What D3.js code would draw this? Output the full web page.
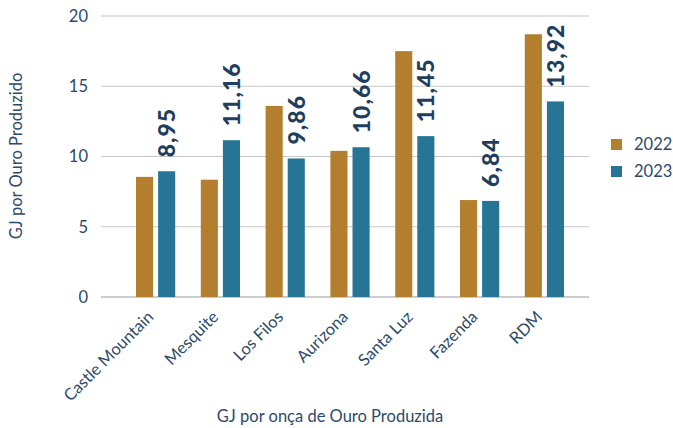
<!DOCTYPE html>
<html>
<head>
<meta charset="utf-8">
<script src="https://cdn.jsdelivr.net/npm/d3@7"></script>
<style>
  body { margin: 0; background: #fff; }
  text { font-family: Lato, 'Open Sans', sans-serif; }
</style>
</head>
<body>
<div id="chart"></div>
<script>
let categories = ['Castle Mountain', 'Mesquite', 'Los Filos', 'Aurizona', 'Santa Luz', 'Fazenda', 'RDM']
let series = ['2022', '2023']
let values2022 = [8.55, 8.35, 13.6, 10.4, 17.5, 6.9, 18.7]
let values2023 = [8.95, 11.16, 9.86, 10.66, 11.45, 6.84, 13.92]
let labels2023 = ['8,95', '11,16', '9,86', '10,66', '11,45', '6,84', '13,92']
let yTicks = [0, 5, 10, 15, 20]

let colors = { '2022': '#b37f2f', '2023': '#267596' }
let textColor = '#2c4a6a'

let width = 673
let height = 428

let svg = d3
  .select('#chart')
  .append('svg')
  .attr('width', width)
  .attr('height', height)

// grid spans wider than the bars
let gridLeft = 101
let gridRight = 589

let x = d3.scaleBand()
  .domain(categories)
  .range([136, 564])
  .paddingInner(0.395)
  .paddingOuter(0)

let xInner = d3.scaleBand()
  .domain(series)
  .range([0, x.bandwidth()])
  .paddingInner(0.227)

let y = d3.scaleLinear()
  .domain([0, 20])
  .range([297, 16])

// gridlines
svg.selectAll('.grid')
  .data(yTicks)
  .enter()
  .append('line')
  .attr('x1', gridLeft)
  .attr('x2', gridRight)
  .attr('y1', d => y(d))
  .attr('y2', d => y(d))
  .attr('stroke', d => d === 0 ? '#9a9a9a' : '#c6c6c6')
  .attr('stroke-width', 1.2)

// y tick labels
svg.selectAll('.ytick')
  .data(yTicks)
  .enter()
  .append('text')
  .attr('x', 88)
  .attr('y', d => y(d))
  .attr('dy', '0.35em')
  .attr('text-anchor', 'end')
  .attr('font-size', 16.5)
  .attr('fill', textColor)
  .text(d => d)

let rows = categories.map((c, i) => ({ cat: c, '2022': values2022[i], '2023': values2023[i], label: labels2023[i] }))

let groups = svg.selectAll('.grp')
  .data(rows)
  .enter()
  .append('g')
  .attr('transform', d => `translate(${x(d.cat)},0)`)

groups.selectAll('rect')
  .data(d => series.map(s => ({ s: s, v: d[s] })))
  .enter()
  .append('rect')
  .attr('x', d => xInner(d.s))
  .attr('y', d => y(d.v))
  .attr('width', xInner.bandwidth())
  .attr('height', d => y(0) - y(d.v))
  .attr('fill', d => colors[d.s])

// value labels on 2023 bars
groups.append('text')
  .attr('transform', d => `translate(${xInner('2023') + xInner.bandwidth()},${y(d['2023']) - 14}) rotate(-90)`)
  .attr('font-size', 23)
  .attr('font-weight', 900)
  .attr('letter-spacing', 1)
  .attr('fill', '#1f3d5c')
  .text(d => d.label)

// category labels
svg.selectAll('.xlab')
  .data(categories)
  .enter()
  .append('text')
  .attr('transform', d => `translate(${x(d) + x.bandwidth() / 2 - 1},${318}) rotate(-45)`)
  .attr('text-anchor', 'end')
  .attr('font-size', 16.5)
  .attr('fill', textColor)
  .text(d => d)

// axis titles
svg.append('text')
  .attr('transform', 'translate(22,156) rotate(-90)')
  .attr('text-anchor', 'middle')
  .attr('font-size', 16.5)
  .attr('fill', textColor)
  .text('GJ por Ouro Produzido')

svg.append('text')
  .attr('x', 330)
  .attr('y', 422)
  .attr('text-anchor', 'middle')
  .attr('font-size', 16.5)
  .attr('fill', textColor)
  .text('GJ por onça de Ouro Produzida')

// legend
let legend = svg.selectAll('.legend')
  .data(series)
  .enter()
  .append('g')
  .attr('transform', (d, i) => `translate(611,${139 + i * 27})`)

legend.append('rect')
  .attr('width', 11)
  .attr('height', 11)
  .attr('fill', d => colors[d])

legend.append('text')
  .attr('x', 23)
  .attr('y', 5.5)
  .attr('dy', '0.35em')
  .attr('font-size', 16.5)
  .attr('fill', textColor)
  .text(d => d)
</script>
</body>
</html>
